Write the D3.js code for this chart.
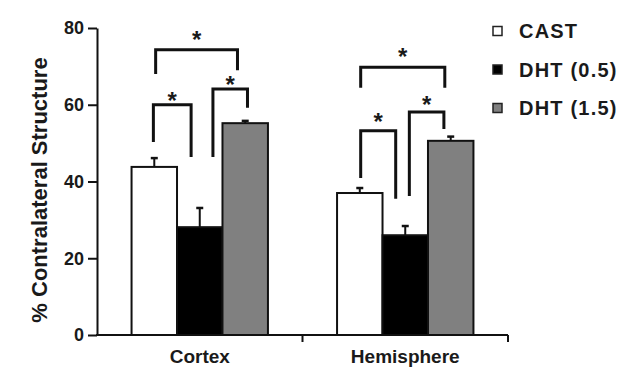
<!DOCTYPE html>
<html>
<head>
<meta charset="utf-8">
<script src="https://cdn.jsdelivr.net/npm/d3@7"></script>
<style>
  body { margin: 0; background: #fff; }
  text { font-family: "Liberation Sans", Arial, sans-serif; font-weight: bold; fill: #1a1a1a; }
</style>
</head>
<body>
<svg id="chart" width="617" height="374"></svg>
<script>
// data
var groups = ['Cortex', 'Hemisphere'];
var series = ['CAST', 'DHT (0.5)', 'DHT (1.5)'];
var seriesFill = ['#ffffff', '#000000', '#808080'];
var yTicks = [0, 20, 40, 60, 80];

var cortexMean = [43.8, 28.1, 55.2];
var cortexErr  = [2.3, 5.0, 0.6];
var hemiMean   = [37.0, 26.0, 50.6];
var hemiErr    = [1.3, 2.4, 1.1];

// significance brackets: bar a -> bar b, leg position in bar (fraction), values for top/leg ends/star
var cortexSig = [
  { a: 0, aAt: 0.48, b: 1, bAt: 0.31, top: 60.0, aEnd: 50.3, bEnd: 46.4, star: 62.3 },
  { a: 1, aAt: 0.79, b: 2, bAt: 0.55, top: 64.1, aEnd: 46.4, bEnd: 59.2, star: 66.4 },
  { a: 0, aAt: 0.53, b: 2, bAt: 0.33, top: 74.3, aEnd: 68.0, bEnd: 69.0, star: 78.2 }
];
var hemiSig = [
  { a: 0, aAt: 0.52, b: 1, bAt: 0.29, top: 53.2, aEnd: 40.9, bEnd: 35.5, star: 56.8 },
  { a: 1, aAt: 0.59, b: 2, bAt: 0.35, top: 58.1, aEnd: 36.2, bEnd: 53.7, star: 61.2 },
  { a: 0, aAt: 0.52, b: 2, bAt: 0.37, top: 69.8, aEnd: 64.4, bEnd: 64.4, star: 73.7 }
];

var means = [cortexMean, hemiMean];
var errs = [cortexErr, hemiErr];
var sigs = [cortexSig, hemiSig];

var svg = d3.select('#chart');

var y = d3.scaleLinear().domain([0, 80]).range([335, 28]);
var x0 = d3.scaleBand().domain(groups).range([97, 508]);
var x1 = d3.scaleBand().domain(d3.range(series.length))
  .range([0, x0.bandwidth()]).paddingInner(0).paddingOuter(0.76);

// bars
groups.forEach(function(g, gi){
  var gx = x0(g);
  var rows = means[gi].map(function(v, i){ return { i: i, v: v, e: errs[gi][i] }; });

  // error bars (drawn under the bar outline)
  var eb = svg.append('g').attr('stroke', '#111').attr('stroke-width', 2);
  rows.forEach(function(d){
    var cx = gx + x1(d.i) + x1.bandwidth() / 2;
    eb.append('line').attr('x1', cx).attr('x2', cx).attr('y1', y(d.v)).attr('y2', y(d.v + d.e));
    eb.append('line').attr('x1', cx - 3.5).attr('x2', cx + 3.5)
      .attr('y1', y(d.v + d.e)).attr('y2', y(d.v + d.e)).attr('stroke-width', 2.5);
  });

  svg.append('g').selectAll('rect').data(rows).enter().append('rect')
    .attr('x', function(d){ return gx + x1(d.i); })
    .attr('y', function(d){ return y(d.v); })
    .attr('width', x1.bandwidth())
    .attr('height', function(d){ return y(0) - y(d.v); })
    .attr('fill', function(d){ return seriesFill[d.i]; })
    .attr('stroke', '#111')
    .attr('stroke-width', 2);

  // brackets
  sigs[gi].forEach(function(s){
    var ax = gx + x1(s.a) + x1.bandwidth() * s.aAt;
    var bx = gx + x1(s.b) + x1.bandwidth() * s.bAt;
    svg.append('path')
      .attr('d', 'M' + ax + ',' + y(s.aEnd) + 'V' + y(s.top) + 'H' + bx + 'V' + y(s.bEnd))
      .attr('fill', 'none').attr('stroke', '#111').attr('stroke-width', 3);
    svg.append('text')
      .attr('x', (ax + bx) / 2)
      .attr('y', y(s.star) + 13)
      .attr('text-anchor', 'middle')
      .style('font-size', '24px')
      .text('*');
  });
});

// y axis
var yAxis = svg.append('g').attr('transform', 'translate(97,0)')
  .call(d3.axisLeft(y).tickValues(yTicks).tickSize(9).tickSizeOuter(0).tickPadding(4));
yAxis.select('.domain').attr('stroke', '#111').attr('stroke-width', 2);
yAxis.selectAll('.tick line').attr('stroke', '#111').attr('stroke-width', 2);
yAxis.selectAll('.tick text').style('font-size', '18px').attr('fill', '#1a1a1a')
  .style('font-family', '"Liberation Sans", Arial, sans-serif').style('font-weight', 'bold');

// x axis
var xa = svg.append('g').attr('stroke', '#111').attr('stroke-width', 2);
xa.append('line').attr('x1', x0.range()[0] - 1).attr('x2', x0.range()[1]).attr('y1', y(0)).attr('y2', y(0));
var edges = groups.map(function(g){ return x0(g); }).concat([x0.range()[1]]);
edges.forEach(function(ex, i){
  if (i === 0) return;
  xa.append('line').attr('x1', ex).attr('x2', ex).attr('y1', y(0)).attr('y2', y(0) + 7);
});
svg.append('g').selectAll('text').data(groups).enter().append('text')
  .attr('x', function(g){ return x0(g) + x0.bandwidth() / 2; })
  .attr('y', 363)
  .attr('text-anchor', 'middle')
  .style('font-size', '19px')
  .text(function(g){ return g; });

// y title
svg.append('text')
  .attr('transform', 'translate(47,190) rotate(-90)')
  .attr('text-anchor', 'middle')
  .style('font-size', '22px')
  .text('% Contralateral Structure');

// legend
var legend = svg.append('g').attr('transform', 'translate(493,31)');
series.forEach(function(s, i){
  var row = legend.append('g').attr('transform', 'translate(0,' + (i * 38.5) + ')');
  row.append('rect').attr('x', 0).attr('y', -4.5).attr('width', 9).attr('height', 9)
    .attr('fill', seriesFill[i]).attr('stroke', '#222').attr('stroke-width', 1.5);
  row.append('text').attr('x', 26).attr('y', 7).style('font-size', '20px')
    .style('letter-spacing', '1.2px').text(s);
});
</script>
</body>
</html>
